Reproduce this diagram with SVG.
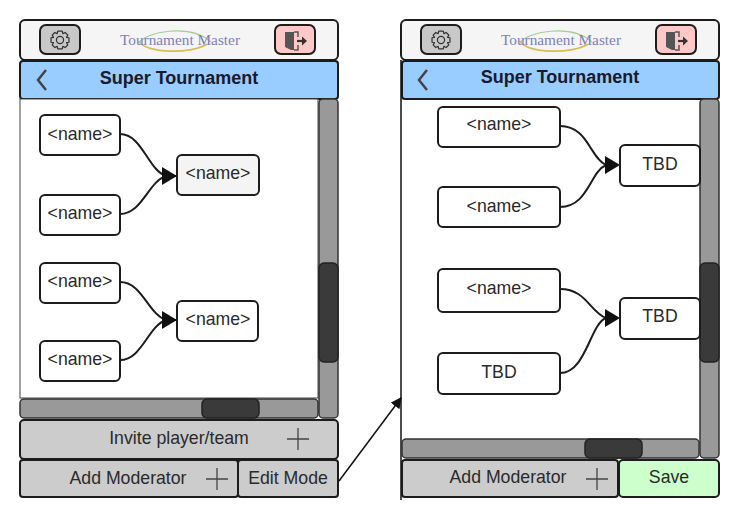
<svg xmlns="http://www.w3.org/2000/svg" xmlns:xlink="http://www.w3.org/1999/xlink" width="739" height="524" viewBox="0 0 739 524">
<style>
text{font-family:"Liberation Sans",Arial,sans-serif;fill:#2a2a2a;text-anchor:middle}
.l{font-size:17.700px}
.t{font-size:18px;font-weight:bold;fill:#1a1a2a}
.logo{font-family:"Liberation Serif","Times New Roman",serif;font-size:15.300px;fill:#8080b8}
.n{fill:#fff;stroke:#1c1c1c;stroke-width:2}
.g{fill:#f4f4f4}
.s{stroke:#1c1c1c;stroke-width:2}
.c{fill:none;stroke:#1c1c1c;stroke-width:2}
</style>
<defs>
<marker id="a" viewBox="0 0 10 10" refX="9" refY="5" markerWidth="11" markerHeight="11" orient="auto" markerUnits="userSpaceOnUse"><path d="M0 0L10 5L0 10Z" fill="#111"/></marker>
<g id="gear" transform="scale(1.120)"><circle r="3.200" fill="none" stroke="#333" stroke-width="1.100"/><path d="M-2-8H2L2.600-5.600 4.600-6.700 7-4.300 5.800-2.400 8-2V2L5.800 2.400 7 4.300 4.600 6.700 2.600 5.600 2 8H-2L-2.600 5.600-4.600 6.700-7 4.300-5.800 2.400-8 2V-2L-5.800-2.400-7-4.300-4.600-6.700-2.600-5.600Z" fill="none" stroke="#333" stroke-width="1.100" stroke-linejoin="round"/></g>
<g id="door"><path d="M-10-9H-1V9H-4L-10 6Z" fill="#555"/><path d="M-1-9H3V-4M3 4V9H-1" fill="none" stroke="#555" stroke-width="1.500"/><path d="M2 0H8" stroke="#333" stroke-width="2.200"/><path d="M7-4.500L12 0L7 4.500Z" fill="#333"/></g>
<g id="swoosh"><path d="M-36 3C-30-8 15-17 36 2" fill="none" stroke="#a8cc98" stroke-width="1.100"/><path d="M-36 1C-30 14 18 14 32 4" fill="none" stroke="#d9bc50" stroke-width="1.700"/></g>
<path id="plus" d="M-11 0H11M0-11V11" stroke="#444" stroke-width="1.300" fill="none"/>
<path id="head" d="M-15-9L0 0L-15 9Z" fill="#111"/>
</defs>

<g id="left-phone">
<g id="left-header"><rect x="20" y="20" width="318" height="40" rx="5" fill="#f5f5f5" class="s"/>
<rect x="40" y="25" width="40" height="29" rx="6" fill="#c8c8c8" class="s"/><use xlink:href="#gear" href="#gear" x="60" y="40"/>
<use xlink:href="#swoosh" href="#swoosh" x="175" y="40"/><text class="logo" x="180" y="45">Tournament Master</text>
<rect x="275" y="25" width="40" height="29" rx="6" fill="#ffc8c8" class="s"/><use xlink:href="#door" href="#door" x="295" y="41"/></g>
<g id="left-title"><rect x="20" y="61" width="318" height="38" rx="3" fill="#99ccff" class="s"/><path d="M46 70L38 80L46 90" fill="none" stroke="#444" stroke-width="2.500"/><text class="t" x="179" y="84">Super Tournament</text></g>
<rect id="left-content" x="20" y="99" width="298" height="299" fill="#fff" stroke="#444" stroke-width="1"/>
<g id="left-vscroll"><rect x="319" y="99" width="19" height="319" rx="4" fill="#999" stroke="#333" stroke-width="1.500"/><rect x="319" y="263" width="19" height="99" rx="5" fill="#3a3a3a" stroke="#222" stroke-width="1.500"/></g>
<g id="left-hscroll"><rect x="20" y="399" width="298" height="19" rx="4" fill="#999" stroke="#333" stroke-width="1.500"/><rect x="202" y="399" width="57" height="19" rx="5" fill="#3a3a3a" stroke="#222" stroke-width="1.500"/></g>
<g id="invite"><rect x="20" y="420" width="318" height="39" rx="4" fill="#ccc" class="s"/><text class="l" x="179" y="444">Invite player/team</text><use xlink:href="#plus" href="#plus" x="298" y="439"/></g>
<g id="left-addmod"><rect x="20" y="460" width="218" height="37" rx="3" fill="#ccc" class="s"/><text class="l" x="128" y="484">Add Moderator</text><use xlink:href="#plus" href="#plus" x="217" y="479"/></g>
<g id="edit-mode"><rect x="238" y="460" width="100" height="37" rx="3" fill="#ccc" class="s"/><text class="l" x="288" y="484">Edit Mode</text></g>
</g>

<g id="right-phone">
<g id="right-header"><rect x="401" y="20" width="318" height="40" rx="5" fill="#f5f5f5" class="s"/>
<rect x="421" y="25" width="40" height="29" rx="6" fill="#c8c8c8" class="s"/><use xlink:href="#gear" href="#gear" x="441" y="40"/>
<use xlink:href="#swoosh" href="#swoosh" x="556" y="40"/><text class="logo" x="561" y="45">Tournament Master</text>
<rect x="656" y="25" width="40" height="29" rx="6" fill="#ffc8c8" class="s"/><use xlink:href="#door" href="#door" x="676" y="41"/></g>
<g id="right-title"><rect x="402" y="61" width="317" height="38" rx="3" fill="#99ccff" class="s"/><path d="M427 70L419 80L427 90" fill="none" stroke="#444" stroke-width="2.500"/><text class="t" x="560" y="83">Super Tournament</text></g>
<path d="M401 60V500" stroke="#111" stroke-width="1.500"/>
<g id="right-vscroll"><rect x="700" y="99" width="19" height="359" rx="4" fill="#999" stroke="#333" stroke-width="1.500"/><rect x="700" y="263" width="19" height="99" rx="5" fill="#3a3a3a" stroke="#222" stroke-width="1.500"/></g>
<g id="right-hscroll"><rect x="402" y="439" width="297" height="19" rx="4" fill="#999" stroke="#333" stroke-width="1.500"/><rect x="585" y="439" width="57" height="19" rx="5" fill="#3a3a3a" stroke="#222" stroke-width="1.500"/></g>
<g id="right-addmod"><rect x="402" y="460" width="216" height="37" rx="3" fill="#ccc" class="s"/><text class="l" x="508" y="483">Add Moderator</text><use xlink:href="#plus" href="#plus" x="597" y="479"/></g>
<g id="save"><rect x="619" y="460" width="100" height="37" rx="4" fill="#ccffcc" class="s"/><text class="l" x="669" y="483">Save</text></g>
</g>

<g id="connectors">
<path class="c" d="M120 134C142 134 148 170 166 176H177"/>
<path class="c" d="M120 214C142 214 148 182 166 176H177"/>
<path class="c" d="M120 282C142 282 148 314 166 320H177"/>
<path class="c" d="M120 360C142 360 148 326 166 320H177"/>
<use xlink:href="#head" href="#head" x="177" y="176"/>
<use xlink:href="#head" href="#head" x="177" y="320"/>
<path class="c" d="M560 126C588 126 590 158 606 165"/>
<path class="c" d="M560 207C588 207 590 172 606 165"/>
<path class="c" d="M560 289C586 289 590 312 606 318"/>
<path class="c" d="M560 373C586 373 590 324 606 318"/>
<use xlink:href="#head" href="#head" x="620" y="165"/>
<use xlink:href="#head" href="#head" x="620" y="318"/>
<path d="M339 481L401 398" stroke="#111" stroke-width="1.500" fill="none" marker-end="url(#a)"/>
</g>

<g id="n1"><rect class="n" x="40" y="115" width="80" height="40" rx="5"/><text class="l" x="80" y="140">&lt;name&gt;</text></g>
<g id="n2"><rect class="n" x="40" y="195" width="80" height="40" rx="5"/><text class="l" x="80" y="219">&lt;name&gt;</text></g>
<g id="n3"><rect class="n g" x="177" y="155" width="82" height="40" rx="5"/><text class="l" x="218" y="179">&lt;name&gt;</text></g>
<g id="n4"><rect class="n" x="40" y="263" width="80" height="40" rx="5"/><text class="l" x="80" y="287">&lt;name&gt;</text></g>
<g id="n5"><rect class="n" x="40" y="341" width="80" height="40" rx="5"/><text class="l" x="80" y="365">&lt;name&gt;</text></g>
<g id="n6"><rect class="n" x="177" y="301" width="81" height="40" rx="5"/><text class="l" x="218" y="325">&lt;name&gt;</text></g>
<g id="r1"><rect class="n" x="438" y="107" width="122" height="40" rx="5"/><text class="l" x="499" y="130">&lt;name&gt;</text></g>
<g id="r2"><rect class="n" x="438" y="187" width="122" height="40" rx="5"/><text class="l" x="499" y="212">&lt;name&gt;</text></g>
<g id="r3"><rect class="n" x="620" y="145" width="80" height="41" rx="5"/><text class="l" x="660" y="170">TBD</text></g>
<g id="r4"><rect class="n" x="438" y="269" width="122" height="43" rx="5"/><text class="l" x="499" y="294">&lt;name&gt;</text></g>
<g id="r5"><rect class="n" x="438" y="353" width="122" height="41" rx="5"/><text class="l" x="499" y="378">TBD</text></g>
<g id="r6"><rect class="n" x="620" y="298" width="80" height="41" rx="5"/><text class="l" x="660" y="322">TBD</text></g>
</svg>
